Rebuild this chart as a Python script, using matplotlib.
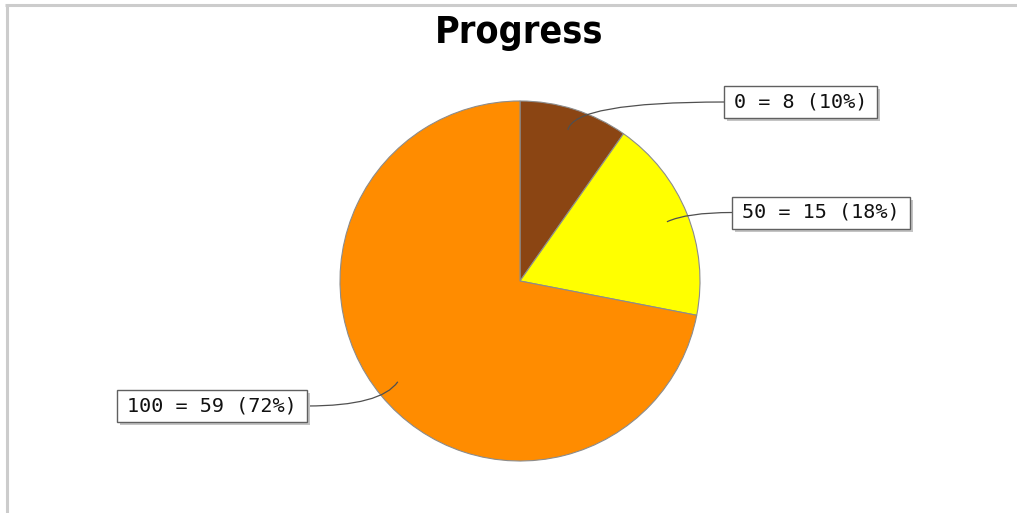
import matplotlib
matplotlib.use('Agg')
import matplotlib.pyplot as plt
from matplotlib.patches import Rectangle
from matplotlib.path import Path
from matplotlib.patches import PathPatch
import numpy as np

categories = ['0', '50', '100']
values = [8, 15, 59]
colors = ['#8B4513', '#FFFF00', '#FF8C00']
title = 'Progress'

W, H = 1017, 513
fig = plt.figure(figsize=(W / 100, H / 100), dpi=100)
ax = fig.add_axes([0, 0, 1, 1])

cx, cy, R = 520, H - 281, 180
wedges, _ = ax.pie(values, colors=colors, startangle=90, counterclock=False,
                   center=(cx, cy), radius=R,
                   wedgeprops=dict(edgecolor='#8c8c8c', linewidth=0.8))
ax.set_xlim(0, W)
ax.set_ylim(0, H)
ax.set_aspect('auto')
ax.axis('off')

# frame lines (partial border of the original chart image)
ax.plot([5, W], [H - 4.5, H - 4.5], color='#cccccc', lw=2.2, solid_capstyle='butt')
ax.plot([7, 7], [0, H - 4.5], color='#cccccc', lw=2.2, solid_capstyle='butt')

ax.text(519, H - 33, title, ha='center', va='center', fontsize=27,
        fontweight='bold', fontstretch='condensed', family='DejaVu Sans')

# label box layout: which edge the link attaches to, and attach point (pixels from top)
box_layout = [('left', 724, 102), ('left', 732, 212.5), ('right', 307, 406)]

total = sum(values)
renderer = fig.canvas.get_renderer()
padx, boxh = 10, 32
for w, cat, val, (side, bx, by) in zip(wedges, categories, values, box_layout):
    by = H - by
    mid = np.deg2rad((w.theta1 + w.theta2) / 2)
    ax_pt = (cx + 0.88 * R * np.cos(mid), cy + 0.88 * R * np.sin(mid))
    edge_x = cx + 1.0 * R * np.cos(mid)
    label = f"{cat} = {val} ({100 * val / total:.0f}%)"
    if side == 'left':
        t = ax.text(bx + padx, by, label, ha='left', va='center', fontsize=14.5,
                    family='DejaVu Sans Mono', color='#111111', zorder=5)
    else:
        t = ax.text(bx - padx, by, label, ha='right', va='center', fontsize=14.5,
                    family='DejaVu Sans Mono', color='#111111', zorder=5)
    ext = t.get_window_extent(renderer)
    x0 = ext.x0 - padx
    wdt = ext.width + 2 * padx
    y0 = by - boxh / 2
    ax.add_patch(Rectangle((x0 + 3, y0 - 3), wdt, boxh, fc='#c4c4c4', ec='none', zorder=3))
    ax.add_patch(Rectangle((x0, y0), wdt, boxh, fc='white', ec='#606060', lw=1.0, zorder=4))
    verts = [ax_pt, (edge_x, by), (bx, by)]
    path = Path(verts, [Path.MOVETO, Path.CURVE3, Path.CURVE3])
    ax.add_patch(PathPatch(path, fc='none', ec='#505050', lw=0.9, zorder=2.5))

fig.savefig('out.png', dpi=100)
